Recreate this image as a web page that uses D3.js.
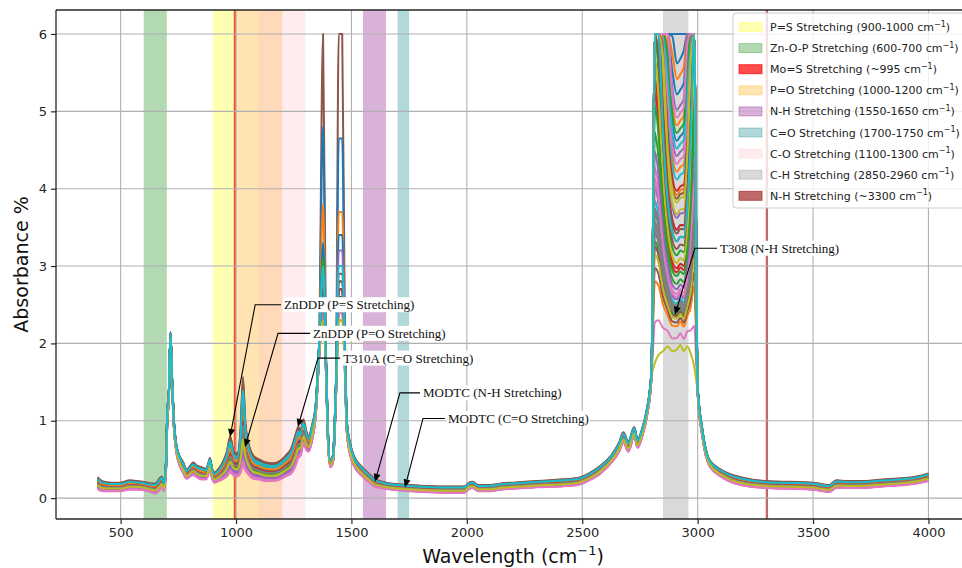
<!DOCTYPE html>
<html>
<head>
<meta charset="utf-8">
<script src="https://cdn.jsdelivr.net/npm/d3@7/dist/d3.min.js"></script>
<style>
  body { margin: 0; background: #ffffff; overflow: hidden; }
  svg { display: block; }
</style>
</head>
<body>
<div id="chart"></div>
<script>
// ================= DATA =================

// envelope of the stack of spectra: lowest and highest curve
var wavenumber = [400, 420, 460, 500, 540, 570, 600, 630, 650, 668, 678, 688, 697, 703, 708, 716, 723, 730, 742, 756,
  770, 786, 802, 815, 830, 850, 870, 880, 887, 895, 905, 925, 945, 960, 975, 990, 1005, 1020, 1030, 1040,
  1055, 1075, 1100, 1130, 1160, 1190, 1215, 1240, 1258, 1270, 1280, 1292, 1305, 1315, 1330, 1345, 1360, 1390, 1398, 1408,
  1420, 1433, 1472, 1480, 1495, 1510, 1540, 1570, 1600, 1650, 1700, 1750, 1800, 1900, 1990, 2010, 2025, 2050, 2100, 2150,
  2200, 2300, 2400, 2480, 2530, 2580, 2630, 2660, 2678, 2700, 2725, 2740, 2760, 2780, 2800,
  3000, 3020, 3050, 3100, 3150, 3200, 3300, 3400, 3500, 3540, 3570, 3600, 3650, 3700, 3800, 3900, 3950, 4000];
var absHigh = [0.27, 0.22, 0.20, 0.20, 0.23, 0.22, 0.21, 0.19, 0.19, 0.25, 0.28, 0.21, 0.50, 1.20, 1.30, 2.15, 1.55, 1.05, 0.68, 0.54,
  0.47, 0.37, 0.42, 0.46, 0.42, 0.40, 0.38, 0.45, 0.52, 0.40, 0.33, 0.38, 0.48, 0.60, 0.80, 0.60, 0.58, 0.90, 1.57, 1.00,
  0.70, 0.55, 0.50, 0.46, 0.45, 0.48, 0.55, 0.65, 0.82, 0.92, 0.88, 1.02, 0.86, 0.80, 0.95, 1.20, 2.00, 1.80, 0.90, 0.50,
  0.56, 1.50, 2.00, 1.00, 0.70, 0.55, 0.42, 0.33, 0.25, 0.20, 0.18, 0.17, 0.16, 0.15, 0.15, 0.20, 0.21, 0.17, 0.17, 0.19,
  0.20, 0.22, 0.24, 0.26, 0.32, 0.42, 0.57, 0.72, 0.85, 0.73, 0.92, 0.76, 0.90, 1.15, 1.65,
  1.45, 0.90, 0.50, 0.37, 0.30, 0.26, 0.22, 0.21, 0.20, 0.18, 0.17, 0.23, 0.22, 0.22, 0.24, 0.26, 0.28, 0.32];
var absLow = [0.12, 0.09, 0.09, 0.09, 0.11, 0.11, 0.10, 0.08, 0.06, 0.10, 0.14, 0.09, 0.38, 1.05, 1.20, 2.08, 1.45, 0.95, 0.58, 0.42,
  0.33, 0.25, 0.28, 0.30, 0.27, 0.24, 0.24, 0.31, 0.38, 0.27, 0.20, 0.22, 0.25, 0.28, 0.33, 0.29, 0.28, 0.33, 0.42, 0.36,
  0.30, 0.25, 0.24, 0.22, 0.22, 0.24, 0.28, 0.32, 0.42, 0.52, 0.55, 0.70, 0.62, 0.60, 0.75, 1.05, 1.80, 1.60, 0.75, 0.40,
  0.46, 1.30, 1.60, 0.85, 0.55, 0.42, 0.30, 0.22, 0.15, 0.12, 0.10, 0.09, 0.08, 0.07, 0.07, 0.12, 0.13, 0.09, 0.09, 0.11,
  0.12, 0.14, 0.15, 0.17, 0.23, 0.32, 0.47, 0.60, 0.72, 0.60, 0.80, 0.65, 0.80, 1.05, 1.55,
  1.35, 0.80, 0.42, 0.28, 0.20, 0.16, 0.13, 0.12, 0.11, 0.09, 0.08, 0.13, 0.13, 0.13, 0.15, 0.17, 0.19, 0.22];

// where each of the 50 samples sits inside that envelope (0 = lowest, 1 = highest)
var stackPos = [0.55, 0.75, 0.35, 0.60, 0.20, 1.00, 0.05, 0.40, 0.30, 0.85,
  0.65, 0.80, 0.35, 0.45, 0.15, 0.95, 0.00, 0.50, 0.40, 0.80,
  0.60, 0.70, 0.45, 0.40, 0.25, 0.90, 0.05, 0.45, 0.35, 0.80,
  0.50, 0.70, 0.30, 0.55, 0.20, 0.85, 0.10, 0.40, 0.30, 0.75,
  0.55, 0.65, 0.40, 0.50, 0.15, 0.85, 0.05, 0.45, 0.30, 0.85];

// C-H stretching band: level at the middle of the band for every sample (detector saturates at 6)
var chWavenumber = [2815, 2830, 2850, 2870, 2890, 2910, 2925, 2940, 2955, 2970, 2985];
var chHump = [-0.15, -0.05, 0, 0.06, 0, 0.02, 0.08, 0, 0.06, -0.03, -0.2];
var chBow = [2.5, 2.0, 1.0, 0.35, 0.1, 0.0, 0.0, 0.05, 0.3, 1.0, 2.5];
var chCentre = [5.2, 2.2, 2.35, 2.9, 2.55, 2.25, 2.05, 2.42, 1.9, 2.5,
  4.6, 4.2, 2.75, 3.3, 3.6, 2.33, 2.62, 2.47, 2.3, 3.45,
  6.0, 3.9, 3.12, 2.95, 2.68, 3.2, 2.58, 2.45, 3.02, 4.1,
  5.6, 4.8, 2.85, 3.95, 4.4, 3.85, 4.3, 2.4, 3.65, 4.5,
  6.0, 5.4, 4.7, 3.45, 5.0, 3.4, 4.9, 2.38, 3.8, 3.3];

// the two sharp peaks near 1377 and 1450 cm-1
var spikeAWavenumber = [1377];
var spikeA = [2.7, 2.5, 2.8, 2.4, 2.6, 6.0, 2.3, 2.5, 2.2, 2.6,
  4.8, 2.6, 2.5, 2.7, 2.4, 2.9, 2.3, 2.6, 2.4, 2.8,
  2.6, 3.8, 2.5, 2.7, 2.6, 2.9, 2.4, 2.5, 2.3, 2.7,
  3.3, 2.6, 2.8, 2.5, 2.7, 2.6, 2.4, 2.6, 2.3, 2.8,
  2.7, 2.5, 3.1, 2.6, 2.8, 2.7, 2.4, 2.5, 2.3, 3.0];
var spikeBWavenumber = [1445, 1460];
var spikeB = [2.6, 2.5, 2.7, 2.4, 2.5, 2.8, 2.3, 2.6, 2.2, 2.5,
  2.7, 2.4, 2.6, 2.5, 2.4, 6.0, 2.3, 2.5, 2.4, 2.6,
  4.65, 2.5, 2.6, 2.7, 2.5, 2.9, 2.4, 2.5, 2.3, 2.6,
  2.7, 3.7, 2.5, 2.7, 2.6, 2.8, 2.4, 2.6, 2.3, 2.7,
  3.4, 2.5, 2.6, 2.7, 3.2, 2.6, 2.4, 2.5, 2.3, 3.0];

// shaded bands (legend order)
var bandLabels = ["P=S Stretching (900-1000 cm", "Zn-O-P Stretching (600-700 cm", "Mo=S Stretching (~995 cm",
  "P=O Stretching (1000-1200 cm", "N-H Stretching (1550-1650 cm", "C=O Stretching (1700-1750 cm",
  "C-O Stretching (1100-1300 cm", "C-H Stretching (2850-2960 cm", "N-H Stretching (~3300 cm"];
var bandFrom = [900, 600, 990, 1000, 1550, 1700, 1100, 2850, 3295];
var bandTo = [1000, 700, 1000, 1200, 1650, 1750, 1300, 2960, 3305];
var bandColors = ["yellow", "green", "red", "orange", "purple", "teal", "pink", "gray", "brown"];
var bandAlpha = [0.3, 0.3, 0.7, 0.3, 0.3, 0.3, 0.3, 0.3, 0.7];

// annotations
var noteText = ["ZnDDP (P=S Stretching)", "ZnDDP (P=O Stretching)", "T310A (C=O Stretching)",
  "MODTC (N-H Stretching)", "MODTC (C=O Stretching)", "T308 (N-H Stretching)"];
var noteTipWn = [974, 1039, 1268, 1602, 1732, 2902];
var noteTipAbs = [0.79, 0.66, 0.92, 0.21, 0.14, 2.37];
var noteTextWn = [1208, 1334, 1464, 1810, 1918, 3097];
var noteTextAbs = [2.50, 2.13, 1.81, 1.36, 1.03, 3.23];
var noteElbowWn = [1083, 1182, 1355, 1710, 1810, 2988];

var xTicks = [500, 1000, 1500, 2000, 2500, 3000, 3500, 4000];
var yTicks = [0, 1, 2, 3, 4, 5, 6];

// ================= SETUP =================
var width = 962, height = 568;
var plotLeft = 56, plotRight = 970, plotTop = 10, plotBottom = 519;
var tab10 = ["#1f77b4", "#ff7f0e", "#2ca02c", "#d62728", "#9467bd", "#8c564b", "#e377c2", "#7f7f7f", "#bcbd22", "#17becf"];

var x = d3.scaleLinear().domain([220, 4180]).range([plotLeft, plotRight]);
var y = d3.scaleLinear().domain([-0.27, 6.31]).range([plotBottom, plotTop]);

var svg = d3.select("#chart").append("svg")
  .attr("width", width)
  .attr("height", height)
  .style("font-family", "'DejaVu Sans', sans-serif");

svg.append("defs").append("clipPath").attr("id", "plotClip")
  .append("rect")
  .attr("x", plotLeft).attr("y", plotTop)
  .attr("width", plotRight - plotLeft).attr("height", plotBottom - plotTop);

var plot = svg.append("g").attr("clip-path", "url(#plotClip)");

//shaded bands (behind everything)
plot.selectAll("rect.band")
  .data(bandFrom)
  .enter()
  .append("rect")
  .attr("class", "band")
  .attr("x", function (d) { return x(d); })
  .attr("width", function (d, i) { return x(bandTo[i]) - x(d); })
  .attr("y", plotTop)
  .attr("height", plotBottom - plotTop)
  .attr("fill", function (d, i) { return bandColors[i]; })
  .attr("fill-opacity", function (d, i) { return bandAlpha[i]; });

//grid
plot.selectAll("line.vgrid")
  .data(xTicks).enter().append("line")
  .attr("x1", function (d) { return x(d); }).attr("x2", function (d) { return x(d); })
  .attr("y1", plotTop).attr("y2", plotBottom)
  .attr("stroke", "#b0b0b0").attr("stroke-width", 1.1);
plot.selectAll("line.hgrid")
  .data(yTicks).enter().append("line")
  .attr("y1", function (d) { return y(d); }).attr("y2", function (d) { return y(d); })
  .attr("x1", plotLeft).attr("x2", plotRight)
  .attr("stroke", "#b0b0b0").attr("stroke-width", 1.1);

//build the points of one sample from the arrays above
function samplePoints(i) {
  var pts = [];
  wavenumber.forEach(function (wn, k) {
    pts.push([wn, absLow[k] + stackPos[i] * (absHigh[k] - absLow[k])]);
  });
  spikeAWavenumber.forEach(function (wn) { pts.push([wn, spikeA[i]]); });
  spikeBWavenumber.forEach(function (wn) { pts.push([wn, spikeB[i]]); });
  chWavenumber.forEach(function (wn, k) {
    var c = chCentre[i];
    pts.push([wn, Math.min(6, c + chHump[k] + chBow[k] * (c - 1.9))]);
  });
  pts.sort(function (a, b) { return a[0] - b[0]; });
  return pts;
}

var line = d3.line()
  .x(function (d) { return x(d[0]); })
  .y(function (d) { return y(d[1]); })
  .curve(d3.curveMonotoneX);

plot.selectAll("path.spectrum")
  .data(d3.range(stackPos.length))
  .enter()
  .append("path")
  .attr("class", "spectrum")
  .attr("d", function (i) { return line(samplePoints(i)); })
  .attr("fill", "none")
  .attr("stroke", function (i) { return tab10[i % 10]; })
  .attr("stroke-width", 2)
  .attr("stroke-linejoin", "round");

//spines
var axisColour = "#262626";
svg.append("line").attr("x1", plotLeft).attr("x2", plotLeft).attr("y1", plotTop).attr("y2", plotBottom)
  .attr("stroke", axisColour).attr("stroke-width", 1.3);
svg.append("line").attr("x1", plotLeft).attr("x2", plotRight).attr("y1", plotBottom).attr("y2", plotBottom)
  .attr("stroke", axisColour).attr("stroke-width", 1.3);
svg.append("line").attr("x1", plotLeft).attr("x2", plotRight).attr("y1", plotTop).attr("y2", plotTop)
  .attr("stroke", axisColour).attr("stroke-width", 1.3);

//ticks + labels
var xAxis = svg.append("g").attr("transform", "translate(0," + plotBottom + ")")
  .call(d3.axisBottom(x).tickValues(xTicks).tickSize(5).tickPadding(4).tickFormat(d3.format("d")));
var yAxis = svg.append("g").attr("transform", "translate(" + plotLeft + ",0)")
  .call(d3.axisLeft(y).tickValues(yTicks).tickSize(5).tickPadding(4).tickFormat(d3.format("d")));
[xAxis, yAxis].forEach(function (ax) {
  ax.select(".domain").remove();
  ax.selectAll("line").attr("stroke", axisColour).attr("stroke-width", 1.2);
  ax.selectAll("text").attr("fill", "#262626").style("font-size", "13px").style("font-family", "'DejaVu Sans', sans-serif");
});

//axis titles
var xTitle = svg.append("text")
  .attr("x", (plotLeft + plotRight) / 2)
  .attr("y", 563)
  .attr("text-anchor", "middle")
  .style("font-size", "19px")
  .attr("fill", "#111");
xTitle.append("tspan").text("Wavelength (cm");
xTitle.append("tspan").attr("dy", -8).style("font-size", "13px").text("\u22121");
xTitle.append("tspan").attr("dy", 8).text(")");

svg.append("text")
  .attr("transform", "translate(28," + (plotTop + plotBottom) / 2 + ") rotate(-90)")
  .attr("text-anchor", "middle")
  .style("font-size", "19px")
  .attr("fill", "#111")
  .text("Absorbance %");

//annotations
var notes = svg.append("g").style("font-family", "'Liberation Serif', 'Times New Roman', serif");
noteText.forEach(function (t, i) {
  var tx = x(noteTextWn[i]), ty = y(noteTextAbs[i]);
  var ex = x(noteElbowWn[i]);
  var px = x(noteTipWn[i]), py = y(noteTipAbs[i]);

  var txt = notes.append("text")
    .attr("x", tx).attr("y", ty)
    .attr("dominant-baseline", "central")
    .style("font-size", "13px")
    .attr("fill", "#111")
    .text(t);
  var bb = txt.node().getBBox();
  notes.insert("rect", function () { return txt.node(); })
    .attr("x", bb.x - 1).attr("y", bb.y)
    .attr("width", bb.width + 2).attr("height", bb.height)
    .attr("fill", "#fff");

  // leader: short horizontal arm then a diagonal to the arrow tip
  var dx = px - ex, dy = py - ty, len = Math.sqrt(dx * dx + dy * dy);
  var ux = dx / len, uy = dy / len;
  var headLen = 8, headHalf = 3.5;
  var bx = px - ux * headLen, by = py - uy * headLen;
  notes.append("path")
    .attr("d", "M" + (tx - 3) + "," + ty + "L" + ex + "," + ty + "L" + bx + "," + by)
    .attr("fill", "none").attr("stroke", "#000").attr("stroke-width", 1.1);
  notes.append("path")
    .attr("d", "M" + px + "," + py +
      "L" + (bx - uy * headHalf) + "," + (by + ux * headHalf) +
      "L" + (bx + uy * headHalf) + "," + (by - ux * headHalf) + "Z")
    .attr("fill", "#000");
});

//legend
var legend = svg.append("g");
legend.append("rect")
  .attr("x", 733).attr("y", 13)
  .attr("width", 236).attr("height", 195)
  .attr("rx", 3)
  .attr("fill", "#fff").attr("fill-opacity", 0.8)
  .attr("stroke", "#cccccc");
bandLabels.forEach(function (lab, i) {
  var cy = 27 + i * 21.1;
  legend.append("rect")
    .attr("x", 739).attr("y", cy - 4.5)
    .attr("width", 23).attr("height", 9)
    .attr("fill", bandColors[i]).attr("fill-opacity", bandAlpha[i])
    .attr("stroke", bandColors[i]).attr("stroke-opacity", bandAlpha[i]);
  var t = legend.append("text")
    .attr("x", 770).attr("y", cy + 4)
    .style("font-size", "11px")
    .attr("fill", "#222");
  t.append("tspan").text(lab);
  t.append("tspan").attr("dy", -4.5).style("font-size", "8px").text("\u22121");
  t.append("tspan").attr("dy", 4.5).text(")");
});
</script>
</body>
</html>
